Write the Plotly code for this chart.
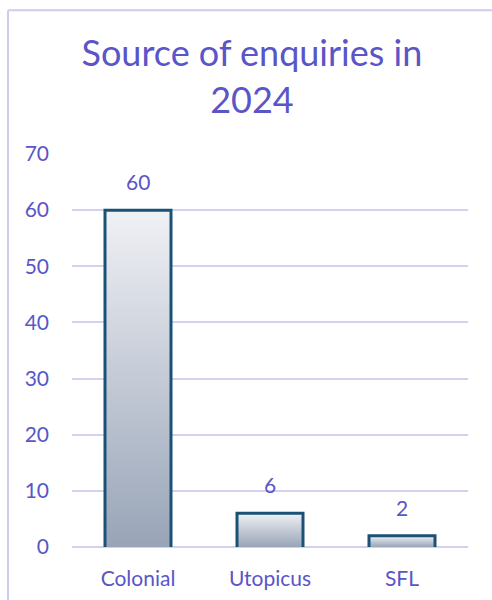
import plotly.graph_objects as go

categories = ["Colonial", "Utopicus", "SFL"]
values = [60, 6, 2]
y_ticks = [0, 10, 20, 30, 40, 50, 60, 70]

TEXT = "#5a55c8"
GRID = "#d3d0f0"
EDGE = "#1a5276"
FONT = "Lato"
BAR_W = 0.5

xs = list(range(len(categories)))
fig = go.Figure()

fig.add_trace(go.Bar(
    x=xs, y=values, width=BAR_W,
    marker=dict(color="#c4cad5", line=dict(width=0)),
    showlegend=False,
))

# gradient fills + outline for each bar (built from the data values), drawn above the bar layer
for i, v in zip(xs, values):
    fig.add_trace(go.Scatter(
        x=[i - BAR_W / 2, i - BAR_W / 2, i + BAR_W / 2, i + BAR_W / 2],
        y=[0, v, v, 0],
        mode="lines", line=dict(width=3, color=EDGE), fill="toself",
        fillgradient=dict(type="vertical",
                          colorscale=[[0, "#98a4b7"], [1, "#f0f1f5"]]),
        hoverinfo="skip", showlegend=False,
    ))

for i, v in zip(xs, values):
    fig.add_annotation(x=i, y=v, text=str(v), showarrow=False,
                       yanchor="bottom", yshift=14,
                       font=dict(family=FONT, size=21, color=TEXT))

fig.update_layout(
    width=492, height=600,
    margin=dict(l=72, r=24, t=154, b=53),
    paper_bgcolor="white", plot_bgcolor="white",
    title=dict(text="Source of enquiries in<br>2024", x=0.512, xanchor="center",
               xref="container", y=0.89, yanchor="middle",
               font=dict(family=FONT, size=36, color=TEXT)),
    font=dict(family=FONT, color=TEXT),
    xaxis=dict(range=[-0.5, 2.5], tickmode="array", tickvals=xs,
               ticktext=categories, showgrid=False, zeroline=False,
               showline=False, ticks="", ticklabelstandoff=17,
               automargin=False,
               tickfont=dict(family=FONT, size=21, color=TEXT)),
    yaxis=dict(range=[0, 70], tickmode="array", tickvals=y_ticks,
               showgrid=True, gridcolor=GRID, gridwidth=1.5,
               zeroline=True, zerolinecolor=GRID, zerolinewidth=1.5,
               showline=False, ticks="", ticklabelstandoff=22,
               automargin=False,
               tickfont=dict(family=FONT, size=21, color=TEXT)),
    shapes=[
        dict(type="line", xref="paper", yref="paper",
             x0=-0.1616, x1=1.2, y0=1.366, y1=1.366,
             line=dict(color="#cfcbef", width=2), layer="below"),
        dict(type="line", xref="paper", yref="paper",
             x0=-0.1616, x1=-0.1616, y0=-0.2, y1=1.366,
             line=dict(color="#cfcbef", width=2), layer="below"),
    ],
)

fig.write_html("out.html")
